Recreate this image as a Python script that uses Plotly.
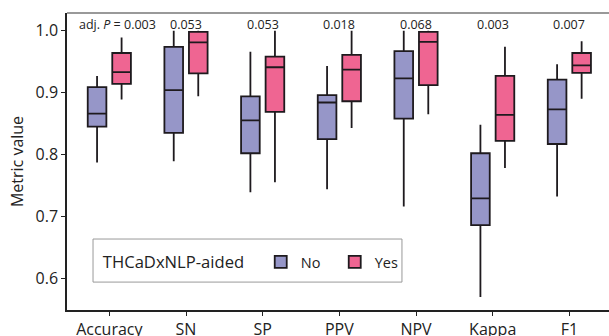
import plotly.graph_objects as go

categories = ["Accuracy", "SN", "SP", "PPV", "NPV", "Kappa", "F1"]

# "No" group (THCaDxNLP-aided = No)
no_upper = [0.927, 1.000, 0.966, 0.943, 1.000, 0.848, 0.946]
no_q3 = [0.909, 0.974, 0.894, 0.896, 0.967, 0.802, 0.921]
no_median = [0.866, 0.904, 0.855, 0.884, 0.923, 0.729, 0.873]
no_q1 = [0.845, 0.835, 0.802, 0.825, 0.858, 0.686, 0.817]
no_lower = [0.787, 0.789, 0.739, 0.744, 0.716, 0.570, 0.732]

# "Yes" group
yes_upper = [0.989, 1.000, 1.000, 1.000, 1.000, 0.974, 0.983]
yes_q3 = [0.964, 0.998, 0.958, 0.961, 0.998, 0.927, 0.964]
yes_median = [0.933, 0.981, 0.941, 0.937, 0.982, 0.864, 0.944]
yes_q1 = [0.914, 0.931, 0.869, 0.886, 0.912, 0.822, 0.932]
yes_lower = [0.889, 0.894, 0.755, 0.843, 0.865, 0.778, 0.890]

p_values = ["0.003", "0.053", "0.053", "0.018", "0.068", "0.003", "0.007"]

FONT = "Open Sans"
fig = go.Figure()
fig.add_trace(go.Box(
    name="No", x=categories, q1=no_q1, median=no_median, q3=no_q3,
    lowerfence=no_lower, upperfence=no_upper,
    fillcolor="#9696C8", line=dict(color="#1e1a1e", width=1.8),
    whiskerwidth=0, boxpoints=False,
))
fig.add_trace(go.Box(
    name="Yes", x=categories, q1=yes_q1, median=yes_median, q3=yes_q3,
    lowerfence=yes_lower, upperfence=yes_upper,
    fillcolor="#EF6592", line=dict(color="#1e1a1e", width=1.8),
    whiskerwidth=0, boxpoints=False,
))

for i, (c, p) in enumerate(zip(categories, p_values)):
    txt = p if i > 0 else "adj. <i>P</i> = " + p
    fig.add_annotation(x=c, y=1.0095, xref="x", yref="y", text=txt,
                       showarrow=False, yanchor="middle",
                       xshift=8 if i == 0 else 0,
                       font=dict(family=FONT, size=12.5, color="#222"))

fig.add_shape(type="line", xref="paper", yref="paper", x0=0, x1=1, y0=1, y1=1,
              line=dict(color="#777", width=1.5))
# legend frame
fig.add_shape(type="rect", xref="paper", yref="paper", x0=0.048, x1=0.618,
              y0=0.094, y1=0.239, line=dict(color="#999", width=1),
              fillcolor="white", layer="above")

fig.update_layout(
    width=609, height=336,
    margin=dict(l=67, r=0, t=13, b=26, autoexpand=False),
    paper_bgcolor="white", plot_bgcolor="white",
    boxmode="group", boxgap=0.36, boxgroupgap=0.24,
    font=dict(family=FONT, size=16, color="#222"),
    showlegend=True,
    legend=dict(
        orientation="h", x=0.0624, y=0.1616, xanchor="left", yanchor="middle",
        borderwidth=0, bgcolor="rgba(0,0,0,0)",
        title=dict(text="THCaDxNLP-aided&nbsp;&nbsp;", side="left", font=dict(size=16.6)),
        font=dict(size=14.5), entrywidth=29, entrywidthmode="pixels",
    ),
    xaxis=dict(range=[-0.552, 6.517], showline=True, linecolor="#222", linewidth=1.5,
               ticks="outside", ticklen=4, tickcolor="#222", showgrid=False,
               tickfont=dict(size=16), automargin=False),
    yaxis=dict(range=[0.5488, 1.0286], showline=True, linecolor="#222", linewidth=1.5,
               ticks="outside", ticklen=4, tickcolor="#222", showgrid=False,
               zeroline=False, tickvals=[0.6, 0.7, 0.8, 0.9, 1.0],
               ticktext=["0.6", "0.7", "0.8", "0.9", "1.0"],
               title=dict(text="Metric value", standoff=8, font=dict(size=16)),
               tickfont=dict(size=16), automargin=False),
)

fig.write_html("out.html", config={"displayModeBar": False},
               post_script="document.body.style.margin='0';")
